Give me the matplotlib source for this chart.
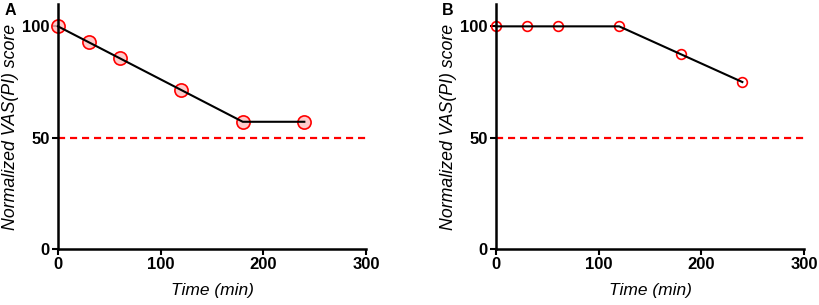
import matplotlib
matplotlib.use("Agg")
import matplotlib.pyplot as plt

plt.rcParams['font.family'] = ['Liberation Sans', 'DejaVu Sans']

time_min = [0, 30, 60, 120, 180, 240]
score_a = [100, 92.86, 85.71, 71.43, 57.14, 57.14]
score_b = [100, 100, 100, 100, 87.5, 75]
threshold = 50
x_ticks = [0, 100, 200, 300]
y_ticks = [0, 50, 100]
panel_labels = ["A", "B"]

fig = plt.figure(figsize=(8.19, 3.05), dpi=100)
axes = [fig.add_axes([0.0708, 0.1836, 0.376, 0.803]),
        fig.add_axes([0.6056, 0.1836, 0.376, 0.803])]

series = [score_a, score_b]
marker_styles = [dict(ms=9.5, mfc=(1, 0.75, 0.75, 0.8)), dict(ms=7, mfc='none')]

for ax, ys, lab, mst in zip(axes, series, panel_labels, marker_styles):
    ax.plot([0, 300], [threshold, threshold], color='#ff0000', lw=1.6,
            ls=(0, (3.2, 2.2)), zorder=1, clip_on=False)
    ax.plot(time_min, ys, ls='none', marker='o', mec='#ff0000', mew=1.2,
            zorder=2, clip_on=False, **mst)
    ax.plot(time_min, ys, color='black', lw=1.5, zorder=3, clip_on=False)
    ax.set_xlim(0, 300)
    ax.set_ylim(0, 110)
    ax.set_xticks(x_ticks)
    ax.set_yticks(y_ticks)
    for s in ['top', 'right']:
        ax.spines[s].set_visible(False)
    for s in ['left', 'bottom']:
        ax.spines[s].set_linewidth(1.8)
    ax.tick_params(axis='both', width=1.5, length=4, direction='out',
                   labelsize=12, pad=2)
    for t in ax.get_xticklabels() + ax.get_yticklabels():
        t.set_fontweight('bold')
    ax.set_xlabel('Time (min)', fontsize=12.5, style='italic', labelpad=8)
    ax.set_ylabel('Normalized VAS(PI) score', fontsize=12.8, style='italic', labelpad=2)
    ax.text(-0.175, 1.005, lab, transform=ax.transAxes, fontsize=11.5,
            fontweight='bold', va='top', ha='left')

fig.savefig('out.png', dpi=100)
